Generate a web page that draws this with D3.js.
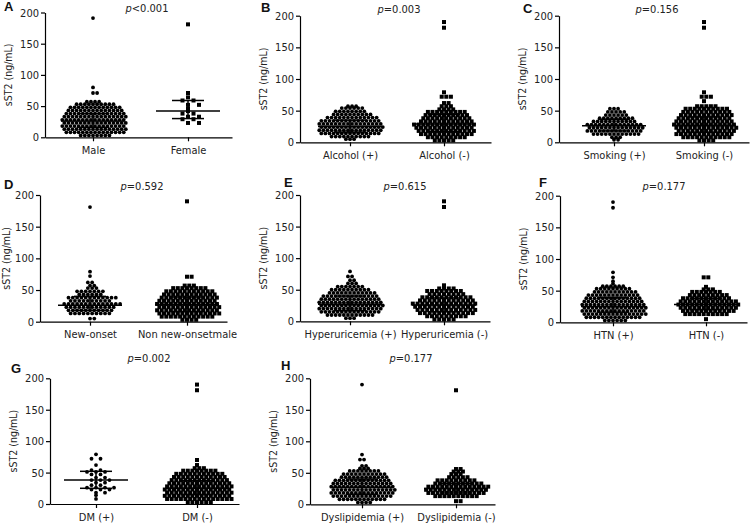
<!DOCTYPE html>
<html>
<head>
	<meta charset="utf-8">
	<title></title>
	<style type="text/css">
		body {
			margin: 0;
			background-color: #fff;
		}
		svg {
			display: block;
			background-color: #fff;
		}
		text {
			font-family: "DejaVu Sans Condensed", "DejaVu Sans", sans-serif;
			font-stretch: condensed;
			fill: #222;
		}
		.letter {
			font-family: "Liberation Sans", Arial, sans-serif;
			font-stretch: normal;
			font-weight: bold;
			font-size: 13px;
			fill: #111;
		}
		.axis path, .axis line {
			stroke: #000;
			stroke-width: 1.2px;
		}
		.axis text {
			font-size: 11px;
			fill: #222;
		}
		.ytitle {
			font-size: 10.5px;
		}
		.pval {
			font-size: 11px;
		}
		.stat {
			stroke: #000;
			stroke-width: 1.5px;
		}
	</style>
	<script type="text/javascript" src="https://cdn.jsdelivr.net/npm/d3@7"></script>
</head>
<body>
	<div id="chart"></div>
	<script type="text/javascript">
		var width = 756, height = 526;

		// ---- data ----
		var panelLetters = ['A', 'B', 'C', 'D', 'E', 'F', 'G', 'H'];
		var pSigns = ['<', '=', '=', '=', '=', '=', '=', '='];
		var pNumbers = ['0.001', '0.003', '0.156', '0.592', '0.615', '0.177', '0.002', '0.177'];
		var groupLabels = [
			['Male', 'Female'],
			['Alcohol (+)', 'Alcohol (-)'],
			['Smoking (+)', 'Smoking (-)'],
			['New-onset', 'Non new-onsetmale'],
			['Hyperuricemia (+)', 'Hyperuricemia (-)'],
			['HTN (+)', 'HTN (-)'],
			['DM (+)', 'DM (-)'],
			['Dyslipidemia (+)', 'Dyslipidemia (-)']
		];
		var yTicks = [0, 50, 100, 150, 200];

		// each row: [sST2 value, number of patients drawn side by side at that value]
		var maleRows = [[3,8],[8,15],[13,16],[18,16],[23,16],[28,16],[33,16],[38,15],[43,14],[48,13],[53,10],[57,4],[71,2],[80,1],[191,1]];
		var femaleRows = [[23,2],[29,2],[33,2],[38,2],[42,1],[46,1],[52,2],[59,2],[64,1],[71,1],[181,1]];
		var alcoholPosRows = [[5,3],[9,10],[14,15],[19,16],[24,16],[29,16],[34,15],[39,13],[44,10],[49,8],[54,6],[57,3]];
		var alcoholNegRows = [[3,5],[8,9],[13,12],[18,13],[23,13],[28,14],[33,12],[38,11],[43,10],[48,9],[52,4],[57,3],[62,2],[72,3],[79,1],[181,1],[190,1]];
		var smokingPosRows = [[4,2],[8,3],[13,12],[18,14],[23,14],[28,14],[33,11],[38,9],[43,6],[48,5],[53,3]];
		var smokingNegRows = [[3,4],[8,11],[13,13],[18,13],[23,14],[28,14],[33,13],[38,12],[43,12],[48,11],[53,10],[57,5],[65,1],[72,3],[79,1],[181,1],[190,1]];
		var newOnsetRows = [[5,2],[13,10],[18,11],[23,12],[28,14],[33,10],[38,12],[43,6],[48,7],[53,3],[57,2],[62,2],[72,1],[79,1],[181,1]];
		var nonNewOnsetRows = [[3,4],[8,12],[13,14],[18,14],[23,14],[28,14],[33,13],[38,13],[43,12],[48,11],[53,8],[57,3],[71,2],[190,1]];
		var hyperPosRows = [[5,3],[10,12],[15,15],[20,16],[25,16],[30,16],[35,15],[40,14],[45,12],[50,10],[55,7],[60,3],[65,2],[71,2],[79,1]];
		var hyperNegRows = [[3,5],[8,9],[13,12],[18,13],[23,13],[28,14],[33,12],[38,11],[43,8],[48,8],[52,4],[57,1],[181,1],[190,1]];
		var htnPosRows = [[3,6],[8,14],[13,16],[18,16],[23,16],[28,16],[33,15],[38,14],[43,13],[48,11],[53,9],[57,6],[61,1],[65,1],[71,1],[79,1],[181,1],[190,1]];
		var htnNegRows = [[5,1],[13,10],[18,12],[23,13],[28,14],[33,13],[38,11],[43,9],[48,7],[52,3],[56,1],[71,2]];
		var dmPosRows = [[8,1],[14,1],[18,2],[23,3],[26,4],[30,2],[34,2],[38,3],[42,2],[47,2],[51,3],[54,2],[62,1],[72,2],[79,1]];
		var dmNegRows = [[3,6],[8,15],[13,15],[18,15],[23,15],[28,15],[33,14],[38,13],[43,12],[48,11],[53,8],[57,3],[62,1],[70,1],[181,1],[190,1]];
		var dysPosRows = [[3,4],[8,12],[13,15],[18,16],[23,16],[28,16],[33,15],[38,14],[43,12],[48,11],[53,8],[57,3],[61,2],[71,2],[79,1],[190,1]];
		var dysNegRows = [[5,2],[13,10],[18,13],[23,14],[28,14],[33,11],[38,9],[43,5],[48,3],[52,3],[56,2],[181,1]];

		var groupRows = [
			[maleRows, femaleRows],
			[alcoholPosRows, alcoholNegRows],
			[smokingPosRows, smokingNegRows],
			[newOnsetRows, nonNewOnsetRows],
			[hyperPosRows, hyperNegRows],
			[htnPosRows, htnNegRows],
			[dmPosRows, dmNegRows],
			[dysPosRows, dysNegRows]
		];

		// median and interquartile range per group
		var medians = [[26,42],[25,29],[26,27],[26,27],[27,26],[25,28],[38,25],[27,25]];
		var q1s = [[16,30],[16,17],[18,16],[18,16],[17,15],[16,20],[25,15],[16,18]];
		var q3s = [[38,59],[35,44],[36,40],[40,39],[40,37],[39,38],[52,37],[40,33]];

		// ---- layout: x0 = y axis, x1 = end of x axis, c1/c2 = category ticks, yt/yb = 200 and 0 ----
		var frames = [
			{x0: 45,  x1: 232, c1: 93,  c2: 188, yt: 12.5,  yb: 137.3, lx: 4,   ly: 11,    px: 147, py: 12},
			{x0: 300, x1: 491, c1: 350, c2: 444, yt: 15.7,  yb: 142.3, lx: 261, ly: 12,    px: 399, py: 12.5},
			{x0: 559, x1: 749, c1: 614, c2: 704, yt: 15.7,  yb: 142.3, lx: 523, ly: 12.5,  px: 657, py: 12.5},
			{x0: 40,  x1: 227, c1: 90,  c2: 187, yt: 195,   yb: 321.7, lx: 4,   ly: 189,   px: 142, py: 189.5},
			{x0: 300, x1: 490, c1: 350, c2: 444, yt: 195,   yb: 321.3, lx: 284, ly: 186.5, px: 405, py: 189.5},
			{x0: 560, x1: 747, c1: 613, c2: 706, yt: 195.7, yb: 322.3, lx: 539, ly: 186.5, px: 664, py: 189.5},
			{x0: 50,  x1: 239, c1: 96,  c2: 197, yt: 378.3, yb: 504,   lx: 11,  ly: 373,   px: 149, py: 362},
			{x0: 310, x1: 495, c1: 362, c2: 456, yt: 378.3, yb: 504.3, lx: 281, ly: 369.5, px: 411, py: 362}
		];
		// horizontal gap between neighbouring points, per group (small groups are spread wider)
		var dotGaps = [[4.1, 11], [4.1, 4.6], [4.1, 4.6], [4.3, 4.6], [4.1, 4.8], [4.1, 4.6], [9, 4.6], [4.1, 4.6]];

		var svg = d3.select('#chart')
			.append('svg')
			.attr('width', width)
			.attr('height', height);

		frames.forEach(function(f, p) {
			var g = svg.append('g');

			var yScale = d3.scaleLinear()
				.domain([0, 200])
				.range([f.yb, f.yt]);

			// categories sit at 1 and 2, the axis runs a bit beyond both
			var xScale = d3.scaleLinear()
				.domain([1, 2])
				.range([f.c1, f.c2]);
			xScale.domain([xScale.invert(f.x0), xScale.invert(f.x1)]).range([f.x0, f.x1]);

			// points
			groupRows[p].forEach(function(rows, k) {
				var gap = dotGaps[p][k];
				var pts = [];
				rows.forEach(function(r, ri) {
					var n = r[1];
					var off = (n > 1 ? ri % 2 : 0) * 0.5;
					for (var i = 0; i < n; i++) {
						var slot = Math.round(i - (n - 1) / 2 - off) + off;
						pts.push({cx: xScale(k + 1) + slot * gap, cy: yScale(r[0])});
					}
				});

				if (k === 0) {
					g.selectAll('.dot' + k)
						.data(pts)
						.enter()
						.append('circle')
						.attr('cx', function(d) { return d.cx; })
						.attr('cy', function(d) { return d.cy; })
						.attr('r', 1.9)
						.attr('fill', '#000');
				} else {
					g.selectAll('.sq' + k)
						.data(pts)
						.enter()
						.append('rect')
						.attr('x', function(d) { return d.cx - 2; })
						.attr('y', function(d) { return d.cy - 2; })
						.attr('width', 4)
						.attr('height', 4)
						.attr('fill', '#000');
				}

				// median line with interquartile whiskers
				var cx = xScale(k + 1);
				g.append('line').attr('class', 'stat')
					.attr('x1', cx - 32).attr('x2', cx + 32)
					.attr('y1', yScale(medians[p][k])).attr('y2', yScale(medians[p][k]));
				g.append('line').attr('class', 'stat')
					.attr('x1', cx).attr('x2', cx)
					.attr('y1', yScale(q1s[p][k])).attr('y2', yScale(q3s[p][k]));
				[q1s[p][k], q3s[p][k]].forEach(function(q) {
					g.append('line').attr('class', 'stat')
						.attr('x1', cx - 16).attr('x2', cx + 16)
						.attr('y1', yScale(q)).attr('y2', yScale(q));
				});
			});

			// axes
			var yAxis = d3.axisLeft(yScale)
				.tickValues(yTicks)
				.tickSize(4)
				.tickSizeOuter(0)
				.tickPadding(2);
			g.append('g')
				.attr('class', 'axis')
				.attr('transform', 'translate(' + f.x0 + ',0)')
				.call(yAxis);

			var xAxis = d3.axisBottom(xScale)
				.tickValues([1, 2])
				.tickSize(4)
				.tickSizeOuter(0)
				.tickPadding(5)
				.tickFormat(function(d) { return groupLabels[p][d - 1]; });
			g.append('g')
				.attr('class', 'axis')
				.attr('transform', 'translate(0,' + f.yb + ')')
				.call(xAxis);

			g.selectAll('.axis text')
				.attr('font-family', null)
				.attr('font-size', null);

			// y title (kept inside the page on the left edge)
			g.append('text')
				.attr('class', 'ytitle')
				.attr('text-anchor', 'middle')
				.attr('transform', 'translate(' + Math.max(f.x0 - 33, 10) + ',' + ((f.yt + f.yb) / 2) + ') rotate(-90)')
				.text('sST2 (ng/mL)');

			// panel letter
			g.append('text')
				.attr('class', 'letter')
				.attr('x', f.lx)
				.attr('y', f.ly)
				.text(panelLetters[p]);

			// p value
			var pt = g.append('text')
				.attr('class', 'pval')
				.attr('x', f.px)
				.attr('y', f.py)
				.attr('text-anchor', 'middle');
			pt.append('tspan').style('font-style', 'italic').text('p');
			pt.append('tspan').text(pSigns[p] + pNumbers[p]);
		});
	</script>
</body>
</html>
